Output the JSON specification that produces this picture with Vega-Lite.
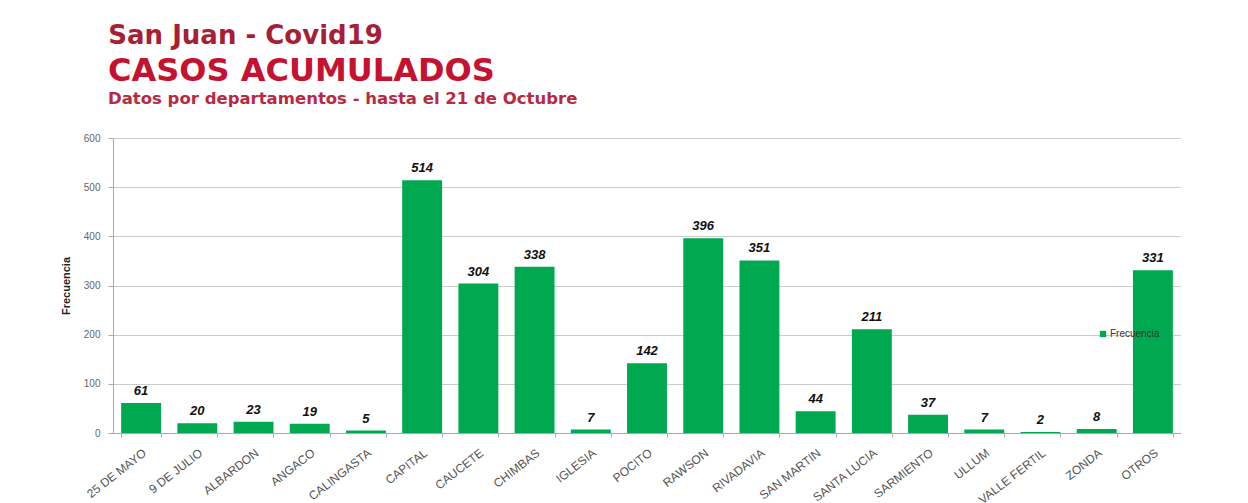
{
  "$schema": "https://vega.github.io/schema/vega-lite/v6.json",
  "background": "white",
  "padding": {"left": 60, "top": 22, "right": 0, "bottom": 0},
  "title": {
    "text": "San Juan - Covid19",
    "anchor": "start",
    "frame": "bounds",
    "dx": 48,
    "offset": 6,
    "font": "DejaVu Sans",
    "fontSize": 26,
    "fontWeight": "bold",
    "color": "#a81f35"
  },
  "vconcat": [
    {
      "title": {
        "text": "CASOS ACUMULADOS",
        "subtitle": "Datos por departamentos - hasta el 21 de Octubre",
        "anchor": "start",
        "frame": "group",
        "dx": -5,
        "offset": 25,
        "font": "DejaVu Sans",
        "fontSize": 32,
        "fontWeight": "bold",
        "color": "#c41230",
        "subtitleFont": "DejaVu Sans",
        "subtitleFontSize": 16.5,
        "subtitleFontWeight": 600,
        "subtitleColor": "#b72a42",
        "subtitlePadding": 3
      },
      "width": 1068,
      "height": 295,
      "data": {
        "values": [
          {"departamento": "25 DE MAYO", "casos": 61},
          {"departamento": "9 DE JULIO", "casos": 20},
          {"departamento": "ALBARDON", "casos": 23},
          {"departamento": "ANGACO", "casos": 19},
          {"departamento": "CALINGASTA", "casos": 5},
          {"departamento": "CAPITAL", "casos": 514},
          {"departamento": "CAUCETE", "casos": 304},
          {"departamento": "CHIMBAS", "casos": 338},
          {"departamento": "IGLESIA", "casos": 7},
          {"departamento": "POCITO", "casos": 142},
          {"departamento": "RAWSON", "casos": 396},
          {"departamento": "RIVADAVIA", "casos": 351},
          {"departamento": "SAN MARTIN", "casos": 44},
          {"departamento": "SANTA LUCIA", "casos": 211},
          {"departamento": "SARMIENTO", "casos": 37},
          {"departamento": "ULLUM", "casos": 7},
          {"departamento": "VALLE FERTIL", "casos": 2},
          {"departamento": "ZONDA", "casos": 8},
          {"departamento": "OTROS", "casos": 331}
        ]
      },
      "encoding": {
        "x": {
          "field": "departamento",
          "type": "nominal",
          "sort": null,
          "scale": {"paddingInner": 0.29, "paddingOuter": 0.145},
          "axis": {
            "title": null,
            "labelAngle": -38,
            "labelFont": "Liberation Sans",
            "labelFontSize": 12,
            "labelColor": "#555555",
            "labelPadding": 10,
            "domainColor": "#aaaaaa",
            "tickColor": "#aaaaaa",
            "tickBand": "extent",
            "tickSize": 4,
            "grid": false
          }
        },
        "y": {
          "field": "casos",
          "type": "quantitative",
          "scale": {"domain": [0, 600]},
          "axis": {
            "title": "Frecuencia",
            "titleFont": "Liberation Sans",
            "titleFontSize": 11,
            "titleFontWeight": "bold",
            "titleColor": "#222222",
            "titlePadding": 12,
            "values": [0, 100, 200, 300, 400, 500, 600],
            "labelFont": "Liberation Sans",
            "labelFontSize": 10,
            "labelColor": "#666666",
            "labelPadding": 8,
            "tickSize": 5,
            "tickColor": "#aaaaaa",
            "domainColor": "#aaaaaa",
            "gridColor": "#cccccc"
          }
        }
      },
      "layer": [
        {
          "mark": {"type": "bar"},
          "encoding": {
            "color": {
              "datum": "Frecuencia",
              "type": "nominal",
              "scale": {"range": ["#00a94f"]},
              "legend": {
                "title": null,
                "orient": "none",
                "legendX": 985,
                "legendY": 191,
                "symbolType": "square",
                "symbolSize": 40,
                "labelFont": "Liberation Sans",
                "labelFontSize": 10,
                "labelColor": "#333333",
                "labelOffset": 2,
                "padding": 0
              }
            }
          }
        },
        {
          "mark": {
            "type": "text",
            "baseline": "bottom",
            "dy": -5,
            "font": "Liberation Sans",
            "fontSize": 13,
            "fontWeight": "bold",
            "fontStyle": "italic",
            "color": "#111111"
          },
          "encoding": {
            "text": {"field": "casos", "type": "quantitative"}
          }
        }
      ]
    }
  ],
  "config": {
    "view": {"stroke": null}
  }
}
